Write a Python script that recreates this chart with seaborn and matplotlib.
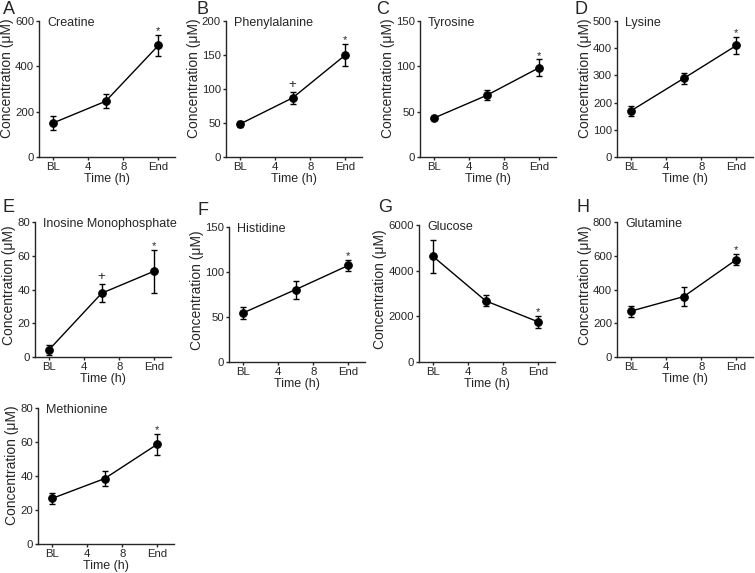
import matplotlib
matplotlib.use("Agg")
import matplotlib.pyplot as plt
import seaborn as sns
import pandas as pd

# ==============================================
# Data
# ==============================================
hours = [0, 6, 12]
tick_pos = [0, 4, 8, 12]
tick_labels = ["BL", "4", "8", "End"]

names = ["Creatine", "Phenylalanine", "Tyrosine", "Lysine",
         "Inosine Monophosphate", "Histidine", "Glucose", "Glutamine",
         "Methionine"]
letters = ["A", "B", "C", "D", "E", "F", "G", "H", ""]

creatine_mean = [150, 246, 492]
creatine_err = [33, 31, 48]
phenylalanine_mean = [48.5, 87, 150]
phenylalanine_err = [4, 8.5, 16.5]
tyrosine_mean = [43, 68, 98.6]
tyrosine_err = [2, 5.5, 9]
lysine_mean = [170, 289, 410]
lysine_err = [19, 21, 33]
imp_mean = [4.3, 37.8, 50.9]
imp_err = [3, 5.5, 12.7]
histidine_mean = [54.5, 80.5, 107.3]
histidine_err = [7, 10, 6.3]
glucose_mean = [4624, 2678, 1756]
glucose_err = [718, 240, 265]
glutamine_mean = [272, 358, 577]
glutamine_err = [32, 56, 33]
methionine_mean = [26.8, 38.5, 58.7]
methionine_err = [3, 4.4, 6.3]

means = [creatine_mean, phenylalanine_mean, tyrosine_mean, lysine_mean,
         imp_mean, histidine_mean, glucose_mean, glutamine_mean, methionine_mean]
errs = [creatine_err, phenylalanine_err, tyrosine_err, lysine_err,
        imp_err, histidine_err, glucose_err, glutamine_err, methionine_err]

# significance marks per time point
marks = [["", "", "*"], ["", "+", "*"], ["", "", "*"], ["", "", "*"],
         ["", "+", "*"], ["", "", "*"], ["", "", "*"], ["", "", "*"],
         ["", "", "*"]]

y_max = [600, 200, 150, 500, 80, 150, 6000, 800, 80]
y_step = [200, 50, 50, 100, 20, 50, 2000, 200, 20]

# ==============================================
# Layout (pixel boxes: left, top, bottom)
# ==============================================
W, H = 755, 573
boxes = [(39, 21, 157), (226, 21, 157), (420, 21, 157), (617, 21, 157),
         (35, 222, 357), (229, 227, 362), (419, 225, 362), (617, 222, 357),
         (38, 408, 544)]
axw = 136
letter_xy = [(3, 9), (196, 9), (376, 9), (575, 9),
             (3, 208), (198, 210), (378, 208), (577, 207), (0, 0)]
ylabel_y = [0.58, 0.58, 0.58, 0.58, 0.53, 0.53, 0.53, 0.53, 0.58]

sns.set_style("ticks")
plt.rcParams["font.family"] = ["Liberation Sans", "DejaVu Sans"]
plt.rcParams["axes.linewidth"] = 1.0
plt.rcParams["xtick.major.width"] = 1.0
plt.rcParams["ytick.major.width"] = 1.0
plt.rcParams["xtick.major.size"] = 2.3
plt.rcParams["ytick.major.size"] = 2.3

fig = plt.figure(figsize=(W / 100, H / 100), dpi=100)

for i, name in enumerate(names):
    left, top, bottom = boxes[i]
    ax = fig.add_axes([left / W, 1 - bottom / H, axw / W, (bottom - top) / H])
    df = pd.DataFrame({"time": hours, "conc": means[i], "err": errs[i]})

    ax.errorbar(df["time"], df["conc"], yerr=df["err"], fmt="none",
                ecolor="black", elinewidth=1, capsize=2.2, capthick=1, zorder=2)
    sns.lineplot(data=df, x="time", y="conc", ax=ax, color="black",
                 linewidth=1, marker="o", markersize=5.5,
                 markeredgecolor="black", zorder=3)

    for t, m, e, s in zip(hours, means[i], errs[i], marks[i]):
        if s == "*":
            ax.annotate(s, (t, m + e), xytext=(0, 0.5), textcoords="offset points",
                        ha="center", va="baseline", fontsize=8)
        elif s == "+":
            ax.annotate(s, (t, m + e), xytext=(0, 3), textcoords="offset points",
                        ha="center", va="baseline", fontsize=9.5)

    ax.set_xlim(-1.6, 13.9)
    ax.set_xticks(tick_pos)
    ax.set_xticklabels(tick_labels)
    ax.set_ylim(0, y_max[i])
    ax.set_yticks(range(0, y_max[i] + 1, y_step[i]))
    ax.tick_params(labelsize=8.2, pad=1.3)
    ax.set_xlabel("Time (h)", fontsize=9, labelpad=1)
    ax.set_ylabel("Concentration (μM)", fontsize=10, labelpad=0.8)
    ax.yaxis.label.set_y(ylabel_y[i])
    ax.text(0.06, 0.985, name, transform=ax.transAxes, ha="left", va="center",
            fontsize=9)
    sns.despine(ax=ax)

    if letters[i]:
        lx, ly = letter_xy[i]
        fig.text(lx / W, 1 - ly / H, letters[i], ha="left", va="center",
                 fontsize=13)

fig.savefig("out.png", dpi=100)
